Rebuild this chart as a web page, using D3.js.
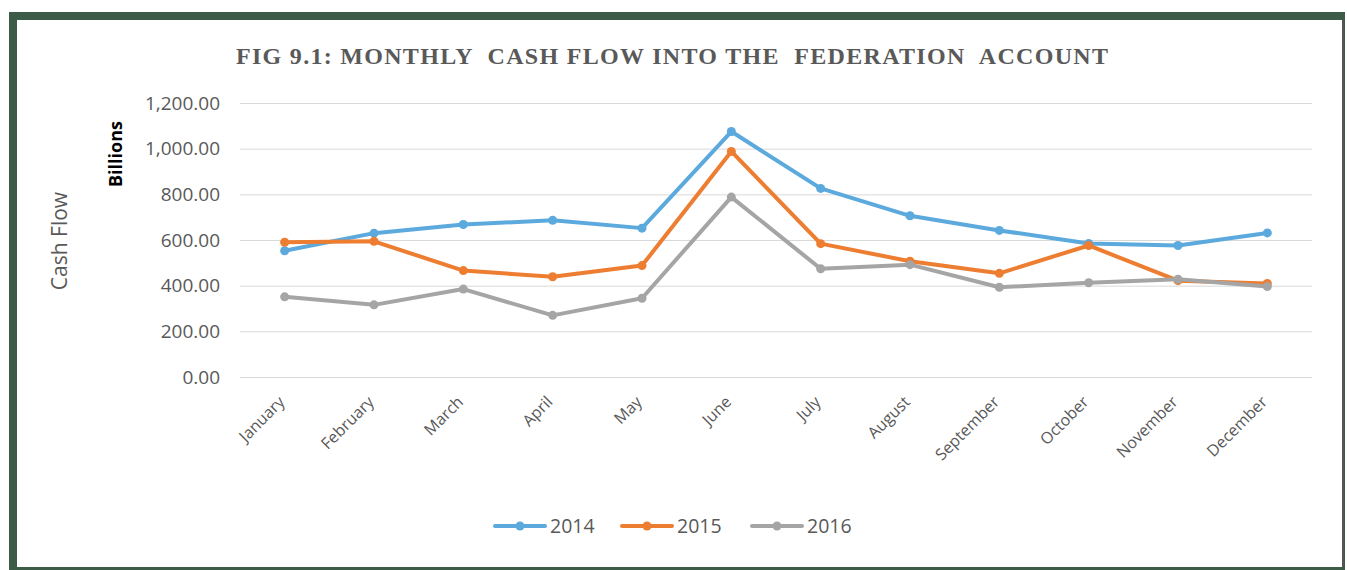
<!DOCTYPE html>
<meta charset="utf-8">
<script src="https://d3js.org/d3.v7.min.js"></script>
<title>Monthly Cash Flow into the Federation Account</title>

<div id="my_dataviz"></div>

<style>
    body { margin: 0; background: #fff; }
    svg { display: block; }
</style>

<script>
    // months on the x axis
    const months = ["January", "February", "March", "April", "May", "June",
        "July", "August", "September", "October", "November", "December"];

    // cash flow in billions
    const cf2014 = [553, 630, 668, 686, 652, 1075, 826, 706, 642, 585, 576, 631];
    const cf2015 = [590, 594, 466, 439, 488, 988, 584, 507, 454, 576, 422, 410];
    const cf2016 = [351, 316, 385, 270, 345, 788, 474, 492, 393, 413, 428, 396];

    const yTicks = [0, 200, 400, 600, 800, 1000, 1200];

    const seriesNames = ["2014", "2015", "2016"];
    const seriesColors = ["#5BA9DD", "#ED7D31", "#A5A5A5"];

    const W = 1347, H = 570;
    const margin = {top: 103, right: 35, bottom: 193, left: 240},
        width = W - margin.left - margin.right,
        height = H - margin.top - margin.bottom;

    const root = d3.select("#my_dataviz")
        .append("svg")
        .attr("width", W)
        .attr("height", H);

    // green frame around the figure
    root.append("rect")
        .attr("x", 9).attr("y", 12)
        .attr("width", 1336).attr("height", 558)
        .attr("fill", "#3D5C48");
    root.append("rect")
        .attr("x", 17).attr("y", 20)
        .attr("width", 1325).attr("height", 547)
        .attr("fill", "#fff");
    root.append("rect")
        .attr("x", 1342).attr("y", 20)
        .attr("width", 2).attr("height", 547)
        .attr("fill", "#555");

    const svg = root.append("g")
        .attr("transform", `translate(${margin.left},${margin.top})`);

    const x = d3.scaleBand()
        .domain(months)
        .range([0, width]);

    const y = d3.scaleLinear()
        .domain([0, 1200])
        .range([height, 0]);

    // gridlines + y labels
    svg.append("g")
        .call(d3.axisLeft(y).tickValues(yTicks).tickSize(-width).tickPadding(20)
            .tickFormat(d3.format(",.2f")))
        .call(g => g.select(".domain").remove())
        .call(g => g.selectAll("line").attr("stroke", "#D9D9D9").attr("stroke-width", 1))
        .call(g => g.selectAll("text")
            .attr("fill", "#595959")
            .style("font-family", "'Open Sans', sans-serif")
            .style("font-size", "19px"));

    // x labels, rotated
    svg.append("g")
        .attr("transform", `translate(0,${height})`)
        .call(d3.axisBottom(x).tickSize(0).tickPadding(0))
        .call(g => g.select(".domain").remove())
        .call(g => g.selectAll("text")
            .attr("fill", "#595959")
            .style("font-family", "'Open Sans', sans-serif")
            .style("font-size", "16px")
            .attr("text-anchor", "end")
            .attr("dy", "0.35em")
            .attr("transform", "translate(-3,22) rotate(-45)"));

    const series = [cf2014, cf2015, cf2016];

    const line = d3.line()
        .x((d, i) => x(months[i]) + x.bandwidth() / 2)
        .y(d => y(d));

    series.forEach((vals, k) => {
        svg.append("path")
            .datum(vals)
            .attr("fill", "none")
            .attr("stroke", seriesColors[k])
            .attr("stroke-width", 4)
            .attr("stroke-linejoin", "round")
            .attr("stroke-linecap", "round")
            .attr("d", line);

        svg.append("g")
            .selectAll("circle")
            .data(vals)
            .join("circle")
            .attr("cx", (d, i) => x(months[i]) + x.bandwidth() / 2)
            .attr("cy", d => y(d))
            .attr("r", 4.5)
            .attr("fill", seriesColors[k]);
    });

    // title
    root.append("text")
        .attr("x", 236)
        .attr("y", 64)
        .attr("textLength", 872)
        .attr("lengthAdjust", "spacing")
        .style("white-space", "pre")
        .style("font-family", "'Liberation Serif', serif")
        .style("font-weight", "bold")
        .style("font-size", "24px")
        .attr("fill", "#595959")
        .text("FIG 9.1: MONTHLY  CASH FLOW INTO THE  FEDERATION  ACCOUNT");

    // axis titles
    root.append("text")
        .attr("transform", "translate(122,154) rotate(-90)")
        .attr("text-anchor", "middle")
        .style("font-family", "'Open Sans', sans-serif")
        .style("font-weight", "bold")
        .style("font-size", "18px")
        .attr("fill", "#000")
        .text("Billions");

    root.append("text")
        .attr("transform", "translate(67,241) rotate(-90)")
        .attr("text-anchor", "middle")
        .style("font-family", "'Open Sans', sans-serif")
        .style("font-size", "21px")
        .attr("fill", "#595959")
        .text("Cash Flow");

    // legend
    const legendX = [495, 622, 752];
    const legendY = 526;
    seriesNames.forEach((name, k) => {
        const lg = root.append("g").attr("transform", `translate(${legendX[k]},${legendY})`);
        lg.append("line")
            .attr("x1", 0).attr("x2", 50)
            .attr("y1", 0).attr("y2", 0)
            .attr("stroke", seriesColors[k])
            .attr("stroke-width", 4)
            .attr("stroke-linecap", "round");
        lg.append("circle")
            .attr("cx", 25).attr("cy", 0).attr("r", 4.5)
            .attr("fill", seriesColors[k]);
        lg.append("text")
            .attr("x", 55).attr("y", 0)
            .attr("dy", "0.35em")
            .style("font-family", "'Open Sans', sans-serif")
            .style("font-size", "19.5px")
            .attr("fill", "#595959")
            .text(name);
    });
</script>
